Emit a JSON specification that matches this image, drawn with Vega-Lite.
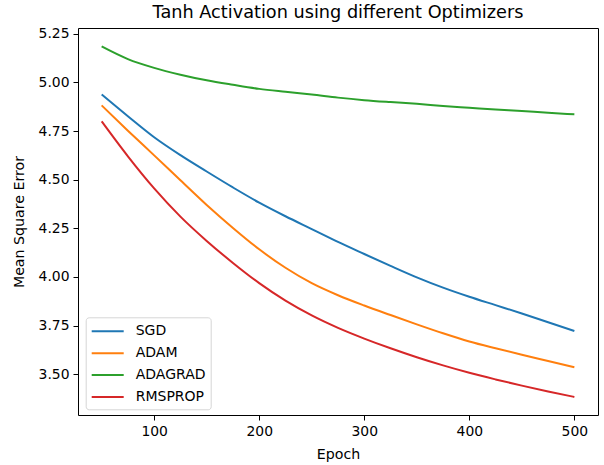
{
  "$schema": "https://vega.github.io/schema/vega-lite/v6.json",
  "width": 520,
  "height": 387,
  "autosize": "none",
  "padding": {"left": 78, "top": 28, "right": 6, "bottom": 50},
  "title": {"text": "Tanh Activation using different Optimizers", "font": "DejaVu Sans", "fontSize": 17.7, "fontWeight": "normal", "color": "#000000", "offset": 5, "anchor": "middle"},
  "config": {
    "view": {"stroke": "#000000", "strokeWidth": 1},
    "axis": {"grid": false, "domain": false, "tickColor": "#000000", "tickSize": 5, "labelFont": "DejaVu Sans", "labelFontSize": 13.9, "labelColor": "#000000", "titleFont": "DejaVu Sans", "titleFontSize": 14.2, "titleFontWeight": "normal", "titleColor": "#000000", "labelPadding": 4}
  },
  "data": {"values": [
    {"epoch": 50, "opt": "SGD", "mse": 4.938},
    {"epoch": 75, "opt": "SGD", "mse": 4.826},
    {"epoch": 100, "opt": "SGD", "mse": 4.718},
    {"epoch": 125, "opt": "SGD", "mse": 4.626},
    {"epoch": 150, "opt": "SGD", "mse": 4.542},
    {"epoch": 175, "opt": "SGD", "mse": 4.46},
    {"epoch": 200, "opt": "SGD", "mse": 4.382},
    {"epoch": 225, "opt": "SGD", "mse": 4.312},
    {"epoch": 250, "opt": "SGD", "mse": 4.246},
    {"epoch": 275, "opt": "SGD", "mse": 4.18},
    {"epoch": 300, "opt": "SGD", "mse": 4.118},
    {"epoch": 325, "opt": "SGD", "mse": 4.057},
    {"epoch": 350, "opt": "SGD", "mse": 3.998},
    {"epoch": 375, "opt": "SGD", "mse": 3.945},
    {"epoch": 400, "opt": "SGD", "mse": 3.898},
    {"epoch": 425, "opt": "SGD", "mse": 3.855},
    {"epoch": 450, "opt": "SGD", "mse": 3.812},
    {"epoch": 475, "opt": "SGD", "mse": 3.767},
    {"epoch": 500, "opt": "SGD", "mse": 3.722},
    {"epoch": 50, "opt": "ADAM", "mse": 4.882},
    {"epoch": 75, "opt": "ADAM", "mse": 4.752},
    {"epoch": 100, "opt": "ADAM", "mse": 4.625},
    {"epoch": 125, "opt": "ADAM", "mse": 4.497},
    {"epoch": 150, "opt": "ADAM", "mse": 4.37},
    {"epoch": 175, "opt": "ADAM", "mse": 4.252},
    {"epoch": 200, "opt": "ADAM", "mse": 4.142},
    {"epoch": 225, "opt": "ADAM", "mse": 4.047},
    {"epoch": 250, "opt": "ADAM", "mse": 3.968},
    {"epoch": 275, "opt": "ADAM", "mse": 3.906},
    {"epoch": 300, "opt": "ADAM", "mse": 3.853},
    {"epoch": 325, "opt": "ADAM", "mse": 3.804},
    {"epoch": 350, "opt": "ADAM", "mse": 3.756},
    {"epoch": 375, "opt": "ADAM", "mse": 3.71},
    {"epoch": 400, "opt": "ADAM", "mse": 3.668},
    {"epoch": 425, "opt": "ADAM", "mse": 3.633},
    {"epoch": 450, "opt": "ADAM", "mse": 3.60},
    {"epoch": 475, "opt": "ADAM", "mse": 3.568},
    {"epoch": 500, "opt": "ADAM", "mse": 3.536},
    {"epoch": 50, "opt": "ADAGRAD", "mse": 5.185},
    {"epoch": 75, "opt": "ADAGRAD", "mse": 5.12},
    {"epoch": 100, "opt": "ADAGRAD", "mse": 5.075},
    {"epoch": 125, "opt": "ADAGRAD", "mse": 5.04},
    {"epoch": 150, "opt": "ADAGRAD", "mse": 5.011},
    {"epoch": 175, "opt": "ADAGRAD", "mse": 4.988},
    {"epoch": 200, "opt": "ADAGRAD", "mse": 4.967},
    {"epoch": 225, "opt": "ADAGRAD", "mse": 4.952},
    {"epoch": 250, "opt": "ADAGRAD", "mse": 4.938},
    {"epoch": 275, "opt": "ADAGRAD", "mse": 4.922},
    {"epoch": 300, "opt": "ADAGRAD", "mse": 4.909},
    {"epoch": 325, "opt": "ADAGRAD", "mse": 4.899},
    {"epoch": 350, "opt": "ADAGRAD", "mse": 4.89},
    {"epoch": 375, "opt": "ADAGRAD", "mse": 4.879},
    {"epoch": 400, "opt": "ADAGRAD", "mse": 4.87},
    {"epoch": 425, "opt": "ADAGRAD", "mse": 4.861},
    {"epoch": 450, "opt": "ADAGRAD", "mse": 4.853},
    {"epoch": 475, "opt": "ADAGRAD", "mse": 4.844},
    {"epoch": 500, "opt": "ADAGRAD", "mse": 4.836},
    {"epoch": 50, "opt": "RMSPROP", "mse": 4.80},
    {"epoch": 75, "opt": "RMSPROP", "mse": 4.62},
    {"epoch": 100, "opt": "RMSPROP", "mse": 4.455},
    {"epoch": 125, "opt": "RMSPROP", "mse": 4.31},
    {"epoch": 150, "opt": "RMSPROP", "mse": 4.185},
    {"epoch": 175, "opt": "RMSPROP", "mse": 4.072},
    {"epoch": 200, "opt": "RMSPROP", "mse": 3.968},
    {"epoch": 225, "opt": "RMSPROP", "mse": 3.878},
    {"epoch": 250, "opt": "RMSPROP", "mse": 3.802},
    {"epoch": 275, "opt": "RMSPROP", "mse": 3.738},
    {"epoch": 300, "opt": "RMSPROP", "mse": 3.683},
    {"epoch": 325, "opt": "RMSPROP", "mse": 3.633},
    {"epoch": 350, "opt": "RMSPROP", "mse": 3.587},
    {"epoch": 375, "opt": "RMSPROP", "mse": 3.545},
    {"epoch": 400, "opt": "RMSPROP", "mse": 3.507},
    {"epoch": 425, "opt": "RMSPROP", "mse": 3.473},
    {"epoch": 450, "opt": "RMSPROP", "mse": 3.441},
    {"epoch": 475, "opt": "RMSPROP", "mse": 3.411},
    {"epoch": 500, "opt": "RMSPROP", "mse": 3.383}
  ]},
  "mark": {"type": "line", "strokeWidth": 2, "interpolate": "monotone"},
  "encoding": {
    "x": {"field": "epoch", "type": "quantitative", "title": "Epoch",
      "scale": {"domain": [27.5, 522.5], "nice": false, "zero": false},
      "axis": {"values": [100, 200, 300, 400, 500], "titlePadding": 10}},
    "y": {"field": "mse", "type": "quantitative", "title": "Mean Square Error",
      "scale": {"domain": [3.29, 5.28], "nice": false, "zero": false},
      "axis": {"values": [3.5, 3.75, 4.0, 4.25, 4.5, 4.75, 5.0, 5.25], "format": ".2f", "titlePadding": 12}},
    "color": {"field": "opt", "type": "nominal",
      "scale": {"domain": ["SGD", "ADAM", "ADAGRAD", "RMSPROP"], "range": ["#1f77b4", "#ff7f0e", "#2ca02c", "#d62728"]},
      "legend": {"title": null, "orient": "none", "legendX": 7.7, "legendY": 289.3,
        "symbolType": "M-2,0H2", "symbolSize": 256, "symbolStrokeWidth": 2, "symbolOffset": 8,
        "labelFont": "DejaVu Sans", "labelFontSize": 14, "labelColor": "#000000", "labelOffset": 19,
        "rowPadding": 5.9, "padding": 5, "strokeColor": "#d6d6d6", "fillColor": "#ffffff", "cornerRadius": 3}}
  }
}
